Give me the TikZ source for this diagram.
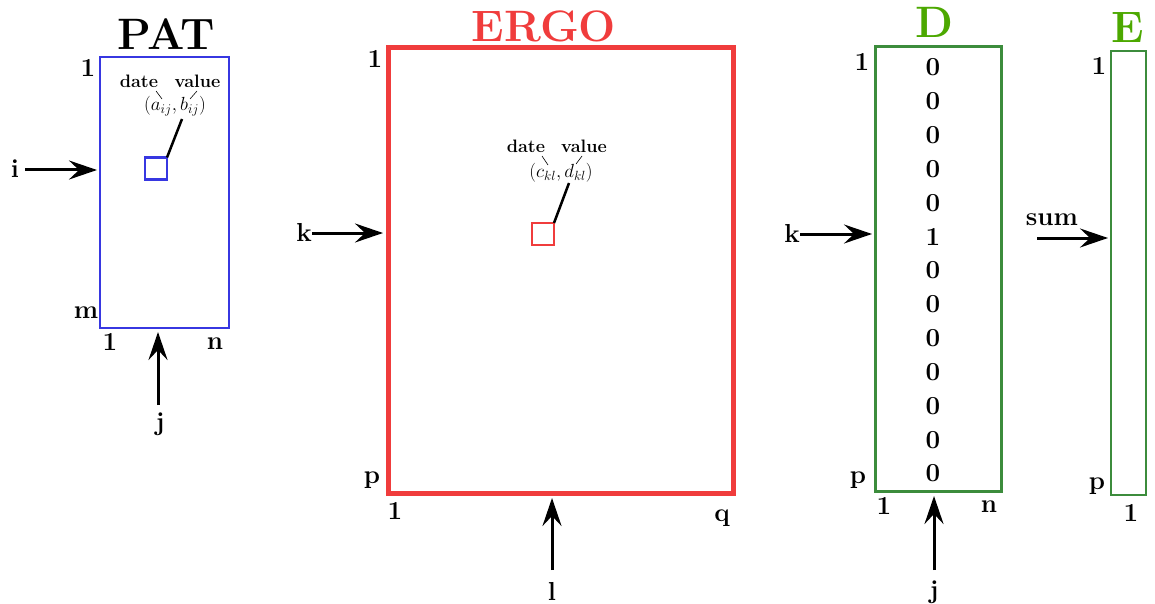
\documentclass[tikz,border=0pt]{standalone}
\usepackage{fix-cm}
\usetikzlibrary{arrows.meta}
\definecolor{patblue}{RGB}{55,55,225}
\definecolor{ergored}{RGB}{240,60,60}
\definecolor{dgreen}{RGB}{60,140,60}
\definecolor{tgreen}{RGB}{76,168,0}
\begin{document}
\begin{tikzpicture}[x=1pt,y=-1pt,
 lbl/.style={font=\fontsize{26}{30}\selectfont\bfseries, anchor=base, inner sep=0pt},
 ttl/.style={font=\fontsize{44}{50}\selectfont\bfseries, anchor=base, inner sep=0pt},
 sml/.style={font=\fontsize{18}{21}\selectfont\bfseries, anchor=base, inner sep=0pt},
 tup/.style={font=\fontsize{19}{22}\selectfont, anchor=center, inner sep=0pt},
 arr/.style={line width=3pt, -{Stealth[length=28pt,width=19pt,inset=10pt]}},
 box/.style={draw, inner sep=0pt, outer sep=0pt},
 tick/.style={line width=0.6pt},
 lead/.style={line width=2.5pt},
]
\useasboundingbox (0,0) rectangle (1155,604);

% ---------- PAT ----------
\node[ttl] (tpat) at (166,50) {PAT};
\node[box, draw=patblue, line width=2.2pt, minimum width=129pt, minimum height=271pt] (pat) at (164.5,192.5) {};
\node[lbl] (pat1) at (88,77) {1};
\node[lbl] (patm) at (86,318) {m};
\node[lbl] (pat1b) at (110,350) {1};
\node[lbl] (patn) at (215,349) {n};
\node[lbl] (pati) at (15,178) {i};
\coordinate (is) at (25,170);
\draw[arr, shorten >=3pt] (is) -- (is -| pat.west);
\node[lbl] (patj) at (160,430) {j};
\coordinate (js) at (158,405);
\draw[arr, shorten >=4pt] (js) -- (js |- pat.south);
\node[box, draw=patblue, line width=2.2pt, minimum size=22pt] (sqa) at (156,168.5) {};
\coordinate (la) at (182,119);
\draw[lead] (sqa.north east) -- (la);
\node[tup] (tupa) at (175,106) {$(a_{ij},b_{ij})$};
\node[sml] (datea) at (139,88) {date};
\node[sml] (valuea) at (197.5,88) {value};
\coordinate (ta1) at (156,91); \coordinate (ta2) at (162,99);
\coordinate (ta3) at (197,91); \coordinate (ta4) at (190,99);
\draw[tick] (ta1) -- (ta2);
\draw[tick] (ta3) -- (ta4);

% ---------- ERGO ----------
\node[ttl, text=ergored] (tergo) at (544,42) {ERGO};
\node[box, draw=ergored, line width=5pt, minimum width=345pt, minimum height=445pt] (ergo) at (560.5,270.5) {};
\node[lbl] (ergo1) at (375,68) {1};
\node[lbl] (ergop) at (372,483) {p};
\node[lbl] (ergo1b) at (395,519) {1};
\node[lbl] (ergoq) at (722,521) {q};
\node[lbl] (ergok) at (304,241) {k};
\coordinate (ks) at (312,233);
\draw[arr, shorten >=5pt] (ks) -- (ks -| ergo.west);
\node[lbl] (ergol) at (552,600) {l};
\coordinate (ls) at (552,570);
\draw[arr, shorten >=5pt] (ls) -- (ls |- ergo.south);
\node[box, draw=ergored, line width=2.2pt, minimum size=22pt] (sqb) at (543,234) {};
\coordinate (lb) at (569,183);
\draw[lead] (sqb.north east) -- (lb);
\node[tup] (tupb) at (561,173) {$(c_{kl},d_{kl})$};
\node[sml] (dateb) at (526,153) {date};
\node[sml] (valueb) at (584,153) {value};
\coordinate (tb1) at (542,156); \coordinate (tb2) at (548,165);
\coordinate (tb3) at (582,156); \coordinate (tb4) at (576,164);
\draw[tick] (tb1) -- (tb2);
\draw[tick] (tb3) -- (tb4);

% ---------- D ----------
\node[ttl, text=tgreen] (td) at (934,38) {D};
\node[box, draw=dgreen, line width=3pt, minimum width=126pt, minimum height=444pt] (dbox) at (938,269) {};
\node[lbl] (d1) at (862,71) {1};
\node[lbl] (dp) at (858,483) {p};
\node[lbl] (d1b) at (884,514) {1};
\node[lbl] (dn) at (989,512) {n};
\node[lbl] (dk) at (792,242) {k};
\coordinate (dks) at (800,234);
\draw[arr, shorten >=3pt] (dks) -- (dks -| dbox.west);
\node[lbl] (dj) at (934,598) {j};
\coordinate (djs) at (934,570);
\draw[arr, shorten >=5pt] (djs) -- (djs |- dbox.south);
\foreach \v [count=\n] in {0,0,0,0,0,1,0,0,0,0,0,0,0}
  \node[lbl] (dv\n) at (933,{76+(\n-1)*33.83}) {\v};

% ---------- E ----------
\node[ttl, text=tgreen] (te) at (1128,43) {E};
\node[box, draw=dgreen, line width=1.5pt, minimum width=35pt, minimum height=444pt] (ebox) at (1128.5,273) {};
\node[lbl] (e1) at (1099,75) {1};
\node[lbl] (ep) at (1097,489) {p};
\node[lbl] (e1b) at (1131,521) {1};
\node[lbl] (esum) at (1052,225) {sum};
\coordinate (ss) at (1037,238);
\draw[arr, shorten >=3pt] (ss) -- (ss -| ebox.west);
\end{tikzpicture}
\end{document}
